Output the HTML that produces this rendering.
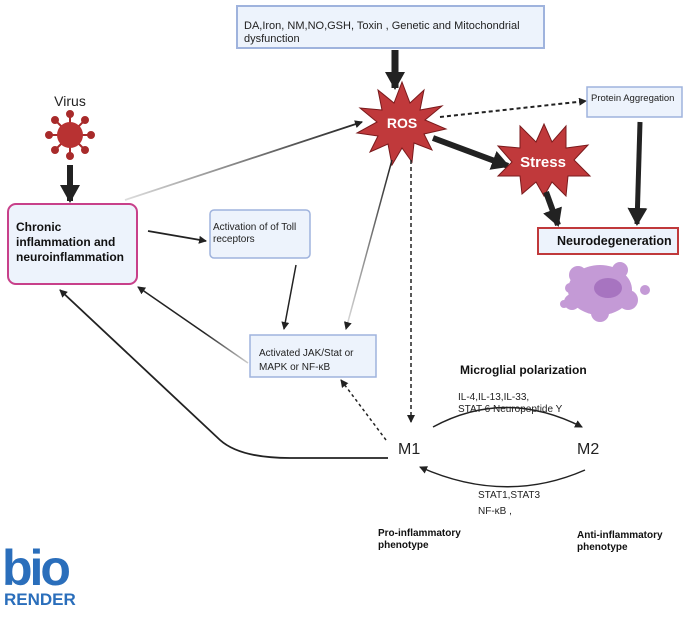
<!DOCTYPE html>
<html><head><meta charset="utf-8"><style>
body{margin:0;background:#fff;width:685px;height:612px;overflow:hidden}
svg{font-family:"Liberation Sans",sans-serif}
</style></head><body>
<svg width="685" height="612" viewBox="0 0 685 612" xmlns="http://www.w3.org/2000/svg">
<defs>
<marker id="a" markerWidth="8" markerHeight="8" refX="7" refY="4" orient="auto" markerUnits="userSpaceOnUse"><path d="M0,0 L8,4 L0,8 z" fill="#222"/></marker>
<marker id="b" markerWidth="20" markerHeight="20" refX="16" refY="10" orient="auto" markerUnits="userSpaceOnUse"><path d="M0,0 L18,10 L0,20 z" fill="#222"/></marker>
<linearGradient id="g1" x1="0" y1="1" x2="1" y2="0"><stop offset="0" stop-color="#ddd"/><stop offset="1" stop-color="#222"/></linearGradient>
<linearGradient id="g2" x1="1" y1="0" x2="0" y2="0"><stop offset="0" stop-color="#ccc"/><stop offset="0.4" stop-color="#222"/></linearGradient>
</defs>
<!-- top box -->
<rect x="237" y="6" width="307" height="42" fill="#edf3fc" stroke="#9fb3dd" stroke-width="2"/>
<text x="244" y="29" font-size="11" fill="#222">DA,Iron, NM,NO,GSH, Toxin , Genetic and Mitochondrial</text>
<text x="244" y="42" font-size="11" fill="#222">dysfunction</text>
<line x1="395" y1="50" x2="395" y2="88" stroke="#222" stroke-width="7" marker-end="url(#b)"/>
<!-- ROS star -->
<polygon fill="#c0393b" stroke="#7a1a1c" stroke-width="1" points="402,82 410,103 424,90 420,110 442,106 425,120 446,129 424,134 432,150 414,143 412,162 402,148 392,165 388,144 370,152 378,136 357,133 377,122 360,108 382,110 378,90 394,103"/>
<text x="402" y="128" font-size="14" font-weight="bold" fill="#fff" text-anchor="middle">ROS</text>
<line x1="440" y1="117" x2="586" y2="101" stroke="#222" stroke-width="2" stroke-dasharray="4,3" marker-end="url(#a)"/>
<rect x="587" y="87" width="95" height="30" fill="#edf3fc" stroke="#9fb3dd" stroke-width="1.5"/>
<text x="591" y="101" font-size="9.5" fill="#222">Protein Aggregation</text>
<!-- ROS->Stress -->
<line x1="433" y1="138" x2="508" y2="166" stroke="#222" stroke-width="6" marker-end="url(#b)"/>
<!-- Stress star -->
<polygon fill="#c0393b" stroke="#7a1a1c" stroke-width="1" points="544,124 552,142 566,126 566,148 588,145 574,160 590,176 568,176 566,196 552,182 544,196 536,182 522,194 520,176 498,176 512,162 498,146 520,148 520,126 536,142"/>
<text x="543" y="167" font-size="15" font-weight="bold" fill="#fff" text-anchor="middle">Stress</text>
<line x1="546" y1="192" x2="558" y2="225" stroke="#222" stroke-width="6" marker-end="url(#b)"/>
<line x1="640" y1="122" x2="637" y2="224" stroke="#222" stroke-width="5" marker-end="url(#b)"/>
<rect x="538" y="228" width="140" height="26" fill="#edf3fc" stroke="#c0393b" stroke-width="2"/>
<text x="557" y="245" font-size="12.5" font-weight="bold" fill="#111">Neurodegeneration</text>
<!-- cell -->
<g fill="#c49ad6">
<ellipse cx="600" cy="290" rx="32" ry="25"/>
<circle cx="578" cy="275" r="9"/><circle cx="620" cy="270" r="8"/><circle cx="628" cy="300" r="10"/>
<circle cx="600" cy="313" r="9"/><circle cx="572" cy="302" r="8"/><circle cx="645" cy="290" r="5"/><circle cx="570" cy="288" r="5"/>
<circle cx="564" cy="304" r="4"/>
</g>
<ellipse cx="608" cy="288" rx="14" ry="10" fill="#a774c0"/>
<!-- Virus -->
<text x="70" y="106" font-size="14" text-anchor="middle" fill="#222">Virus</text>
<g stroke="#a82a2a" stroke-width="2" fill="#a82a2a">
<line x1="70" y1="135" x2="70" y2="115"/><line x1="70" y1="135" x2="70" y2="155"/>
<line x1="70" y1="135" x2="50" y2="135"/><line x1="70" y1="135" x2="90" y2="135"/>
<line x1="70" y1="135" x2="56" y2="121"/><line x1="70" y1="135" x2="84" y2="149"/>
<line x1="70" y1="135" x2="84" y2="121"/><line x1="70" y1="135" x2="56" y2="149"/>
<circle cx="70" cy="114" r="3"/><circle cx="70" cy="156" r="3"/><circle cx="49" cy="135" r="3"/><circle cx="91" cy="135" r="3"/>
<circle cx="55" cy="120" r="3"/><circle cx="85" cy="150" r="3"/><circle cx="85" cy="120" r="3"/><circle cx="55" cy="150" r="3"/>
</g>
<circle cx="70" cy="135" r="13" fill="#b83232"/>
<line x1="70" y1="165" x2="70" y2="201" stroke="#222" stroke-width="6" marker-end="url(#b)"/>
<!-- Chronic box -->
<rect x="8" y="204" width="129" height="80" rx="8" fill="#edf3fc" stroke="#c8408a" stroke-width="2"/>
<text font-size="12" font-weight="bold" fill="#111"><tspan x="16" y="231">Chronic</tspan><tspan x="16" y="246">inflammation and</tspan><tspan x="16" y="261">neuroinflammation</tspan></text>
<line x1="125" y1="200" x2="362" y2="122" stroke="url(#g1)" stroke-width="1.8" marker-end="url(#a)"/>
<line x1="148" y1="231" x2="206" y2="241" stroke="#222" stroke-width="1.8" marker-end="url(#a)"/>
<rect x="210" y="210" width="100" height="48" rx="4" fill="#edf3fc" stroke="#9fb3dd" stroke-width="1.5"/>
<text font-size="10" fill="#222"><tspan x="213" y="230">Activation of of Toll</tspan><tspan x="213" y="242">receptors</tspan></text>
<line x1="296" y1="265" x2="284" y2="329" stroke="#222" stroke-width="1.5" marker-end="url(#a)"/>
<line x1="392" y1="160" x2="346" y2="329" stroke="url(#g1)" stroke-width="1.5" marker-end="url(#a)"/>
<line x1="344" y1="160" x2="346" y2="329" stroke="none"/>
<rect x="250" y="335" width="126" height="42" fill="#edf3fc" stroke="#9fb3dd" stroke-width="1.5"/>
<text font-size="10" fill="#222"><tspan x="259" y="356">Activated JAK/Stat or</tspan><tspan x="259" y="370">MAPK or NF-κB</tspan></text>
<line x1="248" y1="363" x2="138" y2="287" stroke="url(#g2)" stroke-width="1.5" marker-end="url(#a)"/>
<path d="M388,458 L290,458 Q240,458 220,440 L60,290" fill="none" stroke="#222" stroke-width="1.8" marker-end="url(#a)"/>
<line x1="411" y1="160" x2="411" y2="422" stroke="#222" stroke-width="1.5" stroke-dasharray="4,3" marker-end="url(#a)"/>
<line x1="386" y1="440" x2="341" y2="380" stroke="#222" stroke-width="1.5" stroke-dasharray="3,3" marker-end="url(#a)"/>
<text x="398" y="454" font-size="16" fill="#222">M1</text>
<text x="577" y="454" font-size="16" fill="#222">M2</text>
<text x="460" y="374" font-size="12" font-weight="bold" fill="#111">Microglial polarization</text>
<text font-size="10" fill="#222"><tspan x="458" y="400">IL-4,IL-13,IL-33,</tspan><tspan x="458" y="412">STAT 6 Neuropeptide Y</tspan></text>
<path d="M433,427 Q505,388 582,427" fill="none" stroke="#222" stroke-width="1.5" marker-end="url(#a)"/>
<path d="M585,470 Q505,505 420,467" fill="none" stroke="#222" stroke-width="1.5" marker-end="url(#a)"/>
<text font-size="10" fill="#222"><tspan x="478" y="498">STAT1,STAT3</tspan><tspan x="478" y="514">NF-κB ,</tspan></text>
<text font-size="10" font-weight="bold" fill="#111"><tspan x="378" y="536">Pro-inflammatory</tspan><tspan x="378" y="548">phenotype</tspan></text>
<text font-size="10" font-weight="bold" fill="#111"><tspan x="577" y="538">Anti-inflammatory</tspan><tspan x="577" y="550">phenotype</tspan></text>
<!-- BioRender logo -->
<text x="2" y585="585" y="585" font-size="50" font-weight="bold" fill="#2a6ebb" letter-spacing="-3">bio</text>
<text x="4" y="605" font-size="17" font-weight="bold" fill="#2a6ebb">RENDER</text>
</svg>
</body></html>
